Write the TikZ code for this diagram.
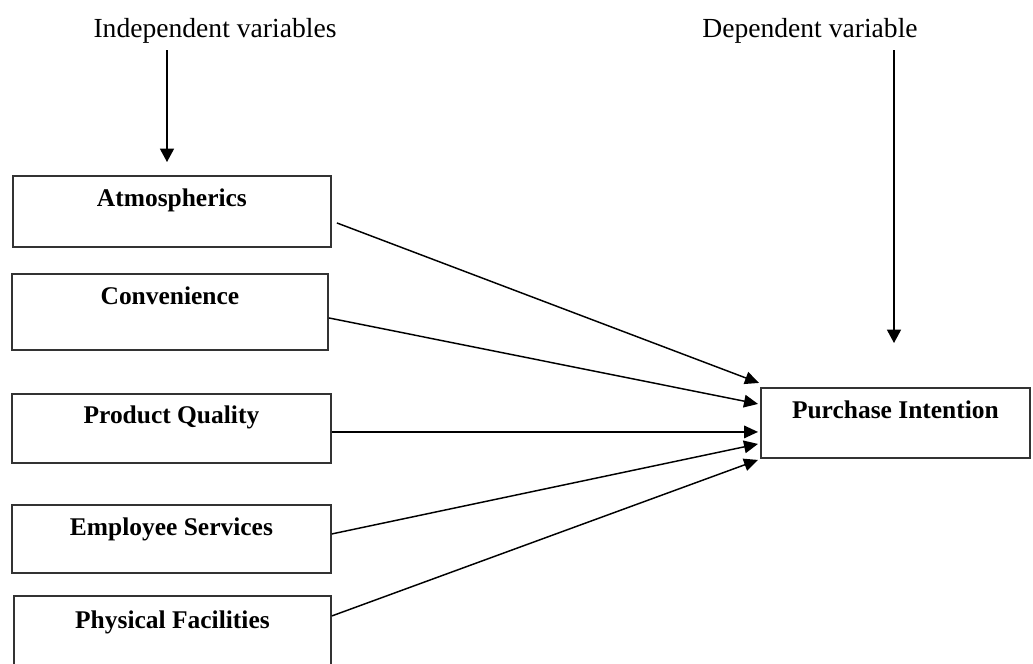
\documentclass[tikz,border=0pt]{standalone}
\usepackage{fontspec}
\setmainfont{Liberation Serif}
\usetikzlibrary{arrows.meta,calc}
\tikzset{
  box/.style={draw=black!80, line width=1.4pt, rectangle, inner xsep=0pt, inner ysep=0pt,
    anchor=north west, font=\fontsize{19.1}{22}\selectfont\bfseries, align=center},
  head/.style={font=\fontsize{20.7}{24}\selectfont, anchor=base},
  conn/.style={draw=black, line width=1.1pt, -{Triangle[length=10.5pt,width=9.5pt]}},
  vconn/.style={draw=black, line width=1.1pt, -{Triangle[length=10pt,width=10.5pt]}}
}
\begin{document}
\begin{tikzpicture}[x=0.75pt,y=-0.75pt]
\useasboundingbox[fill=white] (0,0) rectangle (1033,664);
% headings
\node[head] (iv) at (215,37) {Independent variables};
\node[head] (dv) at (810,37) {Dependent variable};
% boxes
\node[box, minimum width=238.5pt, text height=23.25pt, text depth=30pt] (atm) at (12,175) {Atmospherics};
\node[box, minimum width=237pt, text height=23.25pt, text depth=33.75pt] (conv) at (11,273) {Convenience};
\node[box, minimum width=239.25pt, text height=22.5pt, text depth=29.25pt] (pq) at (11,393) {Product Quality};
\node[box, minimum width=239.25pt, text height=23.25pt, text depth=27.75pt] (es) at (11,504) {Employee Services};
\node[box, minimum width=237.75pt, text height=24.75pt, text depth=33.75pt] (pf) at (13,595) {Physical Facilities};
\node[box, minimum width=201.75pt, text height=23.25pt, text depth=29.25pt] (pi) at (760,387) {Purchase Intention};
% vertical arrows
\coordinate (ivs) at (167,50);
\coordinate (ive) at (167,162);
\coordinate (dvs) at (894,50);
\coordinate (dve) at (894,343);
\draw[vconn] (ivs) -- (ive);
\draw[vconn] (dvs) -- (dve);
% connectors
\draw[conn] ($(atm.east)+(5,11.5)$) -- ($(pi.west)+(-1,-40)$);
\draw[conn] ($(conv.east)+(0,6)$) -- ($(pi.west)+(-2,-19)$);
\draw[conn] ($(pq.east)+(0,3.5)$) -- ($(pi.west)+(-2,9)$);
\draw[conn] ($(es.east)+(0,-5)$) -- ($(pi.west)+(-2,21)$);
\draw[conn] ($(pf.east)+(0,-19)$) -- ($(pi.west)+(-2,37)$);
\end{tikzpicture}
\end{document}
